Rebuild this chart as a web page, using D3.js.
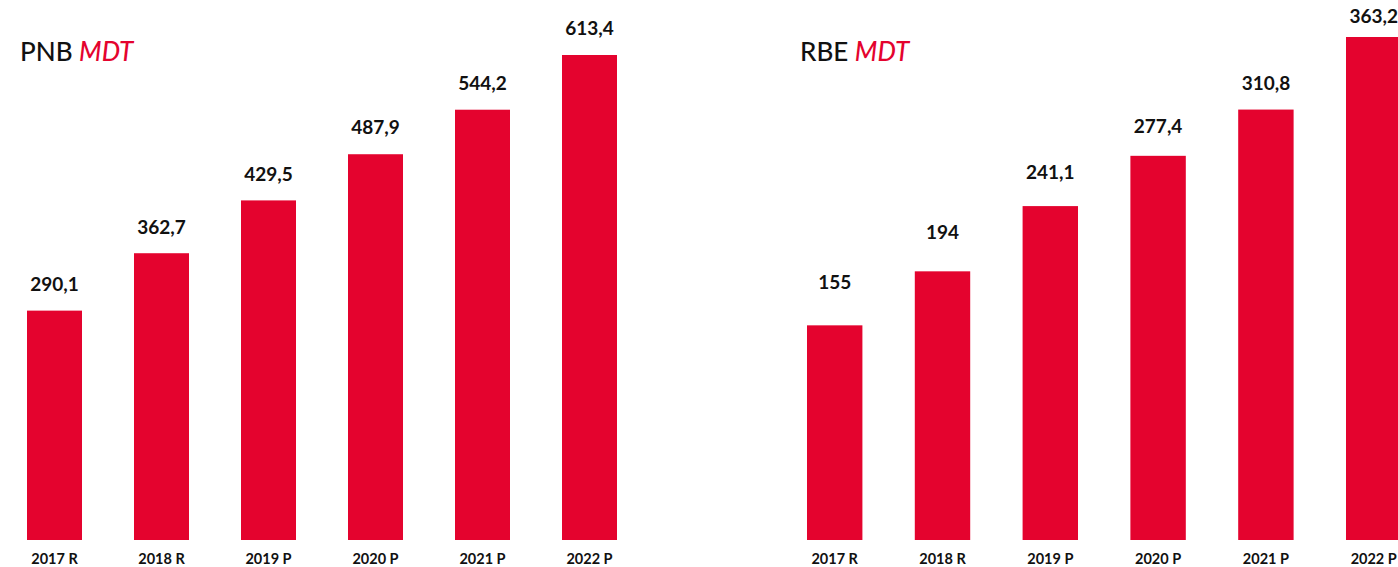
<!DOCTYPE html>
<html>
<head>
<meta charset="utf-8">
<script src="https://cdn.jsdelivr.net/npm/d3@7"></script>
<style>
  html, body { margin: 0; padding: 0; background: #fff; overflow: hidden; }
  svg { display: block; font-family: "Lato", "Noto Sans", sans-serif; }
</style>
</head>
<body>
<svg id="chart" width="1398" height="567"></svg>
<script>
// Years shown on both panels
const years = ["2017 R", "2018 R", "2019 P", "2020 P", "2021 P", "2022 P"];
// PNB in MDT
const pnbValues = [290.1, 362.7, 429.5, 487.9, 544.2, 613.4];
// RBE in MDT
const rbeValues = [155, 194, 241.1, 277.4, 310.8, 363.2];

const RED = "#e4032e";
const svg = d3.select("#chart");
const fmt = v => String(v).replace(".", ",");

function panel(opts) {
  const { title, values, xRange, yTopPx, labelRange, titleX } = opts;
  const baseY = 540;
  const maxV = d3.max(values);
  const x = d3.scaleBand().domain(years).range(xRange)
    .paddingInner(0.486).paddingOuter(0.243);
  const y = d3.scaleLinear().domain([0, maxV]).range([baseY, yTopPx]);
  // value labels sit on their own linear track above the bars
  const yLabel = d3.scaleLinear().domain([0, maxV]).range(labelRange);
  const data = years.map((k, i) => ({ k, v: values[i] }));
  const g = svg.append("g");

  g.selectAll("rect").data(data).join("rect")
    .attr("x", d => x(d.k))
    .attr("y", d => y(d.v))
    .attr("width", x.bandwidth())
    .attr("height", d => baseY - y(d.v))
    .attr("fill", RED);

  g.selectAll("text.val").data(data).join("text")
    .attr("class", "val")
    .attr("x", d => x(d.k) + x.bandwidth() / 2)
    .attr("y", d => yLabel(d.v))
    .attr("text-anchor", "middle")
    .attr("font-size", 19)
    .attr("font-weight", 700)
    .attr("fill", "#111")
    .text(d => fmt(d.v));

  const axis = d3.axisBottom(x).tickSize(0).tickPadding(0);
  const ag = g.append("g").attr("transform", `translate(0,${baseY})`).call(axis);
  ag.select(".domain").remove();
  ag.selectAll("text")
    .attr("y", 24)
    .attr("dy", 0)
    .attr("font-size", 14.5)
    .attr("font-weight", 700)
    .attr("font-family", "Lato, sans-serif")
    .attr("fill", "#111");

  const t = g.append("text")
    .attr("x", titleX).attr("y", 61)
    .attr("font-size", 26)
    .attr("font-weight", 500)
    .attr("fill", "#111");
  t.append("tspan").text(title + " ");
  t.append("tspan").attr("font-style", "italic").attr("fill", RED).text("MDT");
}

panel({ title: "PNB", values: pnbValues, xRange: [1, 643], yTopPx: 55,
        labelRange: [521, 35], titleX: 20 });
panel({ title: "RBE", values: rbeValues, xRange: [780.8, 1427.6], yTopPx: 37,
        labelRange: [487.4, 22.8], titleX: 800 });
</script>
</body>
</html>
